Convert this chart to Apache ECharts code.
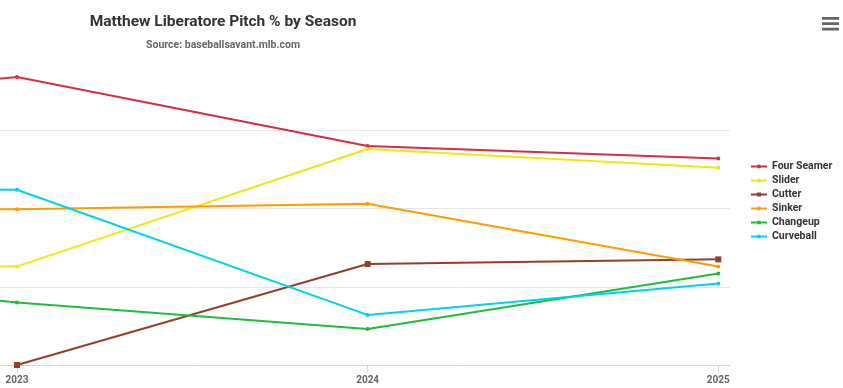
<!DOCTYPE html>
<html>
<head>
<meta charset="utf-8">
<script src="https://cdn.jsdelivr.net/npm/echarts@6/dist/echarts.min.js"></script>
<style>
html,body{margin:0;padding:0;overflow:hidden;background:#fff;width:843px;height:388px;}
#chart{position:absolute;left:-397px;top:0;width:1240px;height:388px;}
</style>
</head>
<body>
<div id="chart"></div>
<script>
var years = [2022, 2023, 2024, 2025];
var tickYears = [2023, 2024, 2025];
var seriesNames = ['Four Seamer', 'Slider', 'Cutter', 'Sinker', 'Changeup', 'Curveball'];
var fourSeamer = [32.5, 36.8, 28.0, 26.4];
var slider = [12.7, 12.6, 27.6, 25.2];
var cutter = [null, 0.0, 12.9, 13.5];
var sinker = [20.0, 19.9, 20.6, 12.6];
var changeup = [12.6, 8.0, 4.6, 11.7];
var curveball = [22.6, 22.4, 6.4, 10.4];
var colors = ['#D22D49', '#EEE716', '#933F2C', '#FE9D00', '#1DBE3A', '#00D1ED'];
var symbols = ['circle', 'circle', 'rect', 'circle', 'circle', 'circle'];

var values = [fourSeamer, slider, cutter, sinker, changeup, curveball];
var FONT = 'Roboto, "Noto Sans", sans-serif';

function pairs(arr) {
  return years.map(function (y, i) { return [y, arr[i] === null ? '-' : arr[i]]; });
}

var chart = echarts.init(document.getElementById('chart'), null, {renderer: 'canvas'});
var pad = 0.0334;
chart.setOption({
  animation: false,
  backgroundColor: '#ffffff',
  color: colors,
  title: {
    text: 'Matthew Liberatore Pitch % by Season',
    subtext: 'Source: baseballsavant.mlb.com',
    left: 'center',
    top: 14,
    padding: 0,
    itemGap: 10,
    textStyle: {fontFamily: FONT, fontWeight: 'bold', fontSize: 15.5, color: '#333333'},
    subtextStyle: {fontFamily: FONT, fontWeight: 'bold', fontSize: 10.5, color: '#666666'}
  },
  toolbox: {
    right: -11,
    top: 2,
    itemSize: 17,
    feature: {
      myMenu: {
        show: true,
        title: '',
        icon: 'path://M0,0H16V2.6H0Z M0,5H16V7.6H0Z M0,10H16V12.6H0Z',
        onclick: function () {}
      }
    },
    iconStyle: {color: '#666666', borderColor: '#666666', borderWidth: 0}
  },
  legend: {
    orient: 'vertical',
    left: 1147,
    top: 160,
    padding: 0,
    itemWidth: 16,
    itemHeight: 5,
    itemGap: 1,
    data: seriesNames,
    textStyle: {fontFamily: FONT, fontWeight: 'bold', fontSize: 10.5, color: '#333333', lineHeight: 13}
  },
  grid: {left: 51.6, right: 113, top: 52, bottom: 23, containLabel: false},
  xAxis: {
    type: 'value',
    min: years[0] - pad,
    max: years[years.length - 1] + pad,
    splitLine: {show: false},
    axisLine: {show: true, lineStyle: {color: '#ccd6eb', width: 1}},
    axisTick: {show: true, length: 8, lineStyle: {color: '#ccd6eb'}, customValues: tickYears},
    axisLabel: {
      customValues: tickYears,
      margin: 10,
      fontFamily: FONT, fontWeight: 'bold', fontSize: 10, color: '#666666',
      formatter: function (v) { return String(Math.round(v)); }
    }
  },
  yAxis: {
    type: 'value',
    min: 0,
    max: 40,
    interval: 10,
    axisLine: {show: false},
    axisTick: {show: false},
    axisLabel: {show: false},
    splitLine: {show: true, showMinLine: false, showMaxLine: false, lineStyle: {color: '#e6e6e6', width: 1}}
  },
  series: seriesNames.map(function (name, i) {
    return {
      name: name,
      type: 'line',
      data: pairs(values[i]),
      symbol: symbols[i],
      symbolSize: symbols[i] === 'rect' ? 6 : 4,
      showSymbol: true,
      lineStyle: {width: 2, color: colors[i]},
      itemStyle: {color: colors[i]},
      emphasis: {disabled: true},
      z: 2
    };
  })
});
</script>
</body>
</html>
